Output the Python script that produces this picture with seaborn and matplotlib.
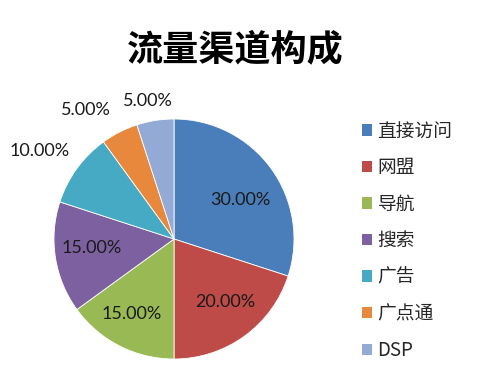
import matplotlib
matplotlib.use('Agg')
import matplotlib.pyplot as plt
import matplotlib.patches as mpatches
import numpy as np
import seaborn as sns

channels = ['直接访问', '网盟', '导航', '搜索', '广告', '广点通', 'DSP']
shares = [30, 20, 15, 15, 10, 5, 5]
colors = ['#4A7EBB', '#BE4B48', '#98B954', '#7D60A0', '#46AAC5', '#E8883C', '#94AAD6']
# label placement: distance from centre (fraction of radius) and angle nudge (deg)
label_r = [0.64, 0.675, 0.72, 0.69, 1.34, 1.3, 1.17]
label_da = [-5.4, 3, -2.2, -2.7, 3, 7.5, 1.7]

sns.set_theme(style='white')
plt.rcParams['font.family'] = ['Noto Sans CJK SC', 'DejaVu Sans']

W, H = 491, 371
fig = plt.figure(figsize=(W / 100, H / 100), dpi=100)
fig.patch.set_facecolor('white')

cx, cy, r = 174, 239, 120
ax = fig.add_axes([(cx - r) / W, (H - cy - r) / H, 2 * r / W, 2 * r / H])
wedges, _ = ax.pie(shares, colors=colors, startangle=90, counterclock=False,
                   wedgeprops=dict(edgecolor='white', linewidth=0.6))
ax.set_xlim(-1, 1)
ax.set_ylim(-1, 1)
ax.set_aspect('equal')
ax.axis('off')

for w, v, d, da in zip(wedges, shares, label_r, label_da):
    ang = np.deg2rad((w.theta1 + w.theta2) / 2 + da)
    ax.text(d * np.cos(ang), d * np.sin(ang), f'{v:.2f}%', ha='center', va='center',
            fontsize=13, color='#1a1a1a', family=['Lato', 'DejaVu Sans'])

fig.text(235.5 / W, 1 - 50 / H, '流量渠道构成', ha='center', va='center',
         fontsize=26, fontweight='bold', color='black')

handles = [mpatches.Patch(facecolor=c, edgecolor='none', label=l) for c, l in zip(colors, channels)]
fig.legend(handles=handles, loc='upper left', bbox_to_anchor=(354 / W, 1 - 113 / H),
           frameon=False, fontsize=13.5, handlelength=0.55, handleheight=0.55,
           handletextpad=0.3, labelspacing=0.83, borderaxespad=0)

fig.savefig('out.png', dpi=100, facecolor='white')
